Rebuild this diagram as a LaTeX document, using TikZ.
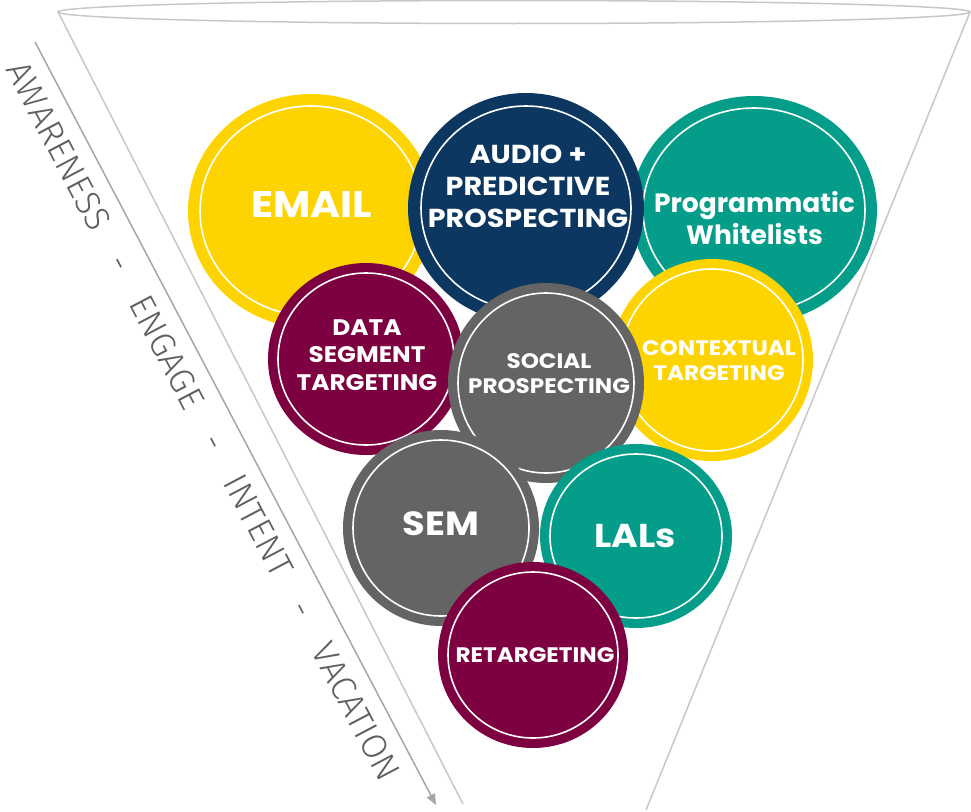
\documentclass[tikz,border=0pt]{standalone}
\usepackage{fontspec}
\setmainfont{Poppins}
\newfontfamily\widefont{Poppins}[FakeStretch=1.1]
\newfontfamily\sidefont{Fira Sans Light}
\usetikzlibrary{arrows.meta,shapes.geometric}

\definecolor{sun}{RGB}{254,212,0}
\definecolor{navy}{RGB}{11,55,97}
\definecolor{jade}{RGB}{4,157,137}
\definecolor{wine}{RGB}{125,0,64}
\definecolor{slate}{RGB}{100,100,100}
\definecolor{funnelgray}{RGB}{200,200,200}
\definecolor{flowgray}{RGB}{166,166,166}
\definecolor{stagegray}{RGB}{95,95,95}

\begin{document}
\begin{tikzpicture}[x=1pt,y=-1pt,
  bubble/.style={ellipse, inner sep=0pt, draw=none},
  ring/.style={draw=white, line width=1.6pt},
  bublabel/.style={text=white, align=center, inner sep=0pt},
  funnel/.style={draw=funnelgray, line width=1.5pt},
  flow/.style={draw=flowgray, line width=1.5pt, -{Triangle[length=11pt,width=9pt]}},
  stage/.style={text=stagegray, inner sep=0pt, font=\sidefont\fontsize{35}{40}\selectfont}]
\useasboundingbox (0,0) rectangle (971,811);

% funnel outline
\coordinate (rimL) at (58,12);
\coordinate (rimR) at (970,12);
\coordinate (tipL) at (463,804);
\coordinate (tipR) at (646,810);
\draw[funnel] (514,12) ellipse [x radius=456, y radius=11.5];
\draw[funnel] (rimL) -- (tipL);
\draw[funnel] (rimR) -- (tipR);

% stage arrow and its caption
\coordinate (flowStart) at (35,42);
\coordinate (flowEnd) at (436,805);
\draw[flow] (flowStart) -- (flowEnd);
\node[stage, rotate=-62.27] (stages) at (203.5,421)
  {AWARENESS\hspace{33pt}-\hspace{33pt}ENGAGE\hspace{33pt}-\hspace{33pt}INTENT\hspace{33pt}-\hspace{33pt}VACATION};

% EMAIL
\node[bubble, fill=sun, minimum width=246pt, minimum height=234pt] (email) at (311,211) {};
\draw[ring] (email.center) ellipse [x radius=111, y radius=105];
\node[bublabel, font=\widefont\bfseries\fontsize{37}{44}\selectfont] (emailText) at (311.5,205) {EMAIL};

% Programmatic Whitelists
\node[bubble, fill=jade, minimum width=246pt, minimum height=228pt] (prog) at (754,210) {};
\draw[ring] (prog.center) ellipse [x radius=111, y radius=102];
\node[bublabel, font=\bfseries\fontsize{26.5}{32}\selectfont] (progText) at (754.5,218) {Programmatic\\Whitelists};

% Audio + Predictive Prospecting
\node[bubble, fill=navy, minimum width=236pt, minimum height=230pt] (audio) at (526,208) {};
\draw[ring] (audio.center) ellipse [x radius=105, y radius=102];
\node[bublabel, font=\widefont\bfseries\fontsize{26}{32}\selectfont] (audioText) at (528,186) {AUDIO +\\PREDICTIVE\\PROSPECTING};

% Data Segment Targeting
\node[bubble, fill=wine, minimum width=196pt, minimum height=192pt] (data) at (366,359) {};
\draw[ring] (data.center) ellipse [x radius=88, y radius=86];
\node[bublabel, font=\widefont\bfseries\fontsize{22.5}{27.5}\selectfont] (dataText) at (367,355) {DATA\\SEGMENT\\TARGETING};

% Contextual Targeting
\node[bubble, fill=sun, minimum width=202pt, minimum height=202pt] (context) at (712,360) {};
\draw[ring] (context.center) ellipse [x radius=91, y radius=91];
\node[bublabel, font=\widefont\bfseries\fontsize{21}{25}\selectfont] (contextText) at (719,360.5) {CONTEXTUAL\\TARGETING};

% Social Prospecting
\node[bubble, fill=slate, minimum width=196pt, minimum height=200pt] (social) at (546,383) {};
\draw[ring] (social.center) ellipse [x radius=88, y radius=90];
\node[bublabel, font=\widefont\bfseries\fontsize{21}{25}\selectfont] (socialText) at (549,374) {SOCIAL\\PROSPECTING};

% SEM
\node[bubble, fill=slate, minimum width=196pt, minimum height=196pt] (sem) at (441,528) {};
\draw[ring] (sem.center) ellipse [x radius=88, y radius=88];
\node[bublabel, font=\widefont\bfseries\fontsize{33.5}{40}\selectfont] (semText) at (441,523.5) {SEM};

% LALs
\node[bubble, fill=jade, minimum width=192pt, minimum height=184pt] (lals) at (636,536) {};
\draw[ring] (lals.center) ellipse [x radius=86, y radius=82];
\node[bublabel, font=\bfseries\fontsize{33}{40}\selectfont] (lalsText) at (635,536.5) {\widefont LALs};

% Retargeting
\node[bubble, fill=wine, minimum width=190pt, minimum height=186pt] (retarget) at (533,655) {};
\draw[ring] (retarget.center) ellipse [x radius=85, y radius=83];
\node[bublabel, font=\widefont\bfseries\fontsize{21}{25}\selectfont] (retargetText) at (535,655.5) {RETARGETING};

\end{tikzpicture}
\end{document}
